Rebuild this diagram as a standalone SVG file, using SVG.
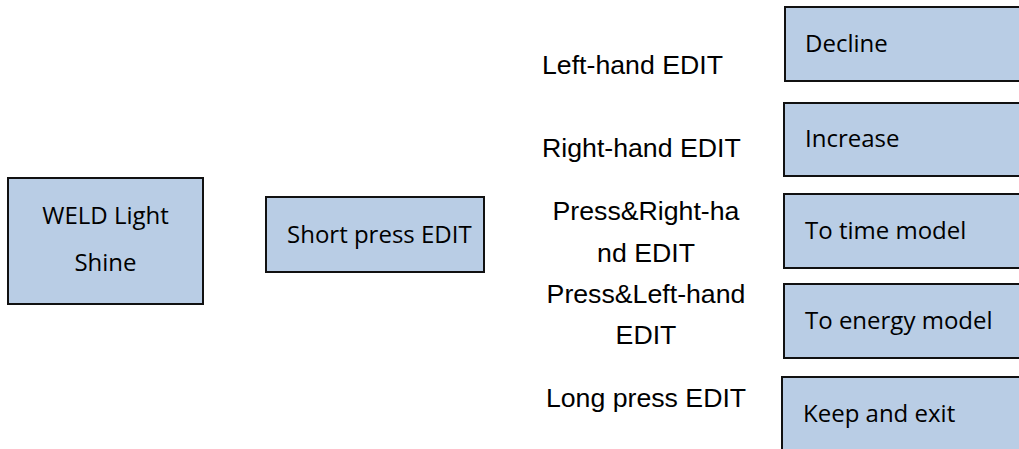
<svg xmlns="http://www.w3.org/2000/svg" width="1019" height="449" viewBox="0 0 1019 449">
<style>
.box{fill:#b9cde5;stroke:#111;stroke-width:2}
.bt{font-family:"Open Sans","Liberation Sans",sans-serif;font-size:24px;fill:#000}
.lb{font-family:"Liberation Sans",Arial,sans-serif;font-size:26.7px;fill:#000}
</style>
<rect width="1019" height="449" fill="#fff"/>
<g id="connectors"/>
<g id="weld">
<rect class="box" x="8" y="178" width="195" height="126"/>
<text class="bt" x="105.5" y="224" text-anchor="middle">WELD Light</text>
<text class="bt" x="105.5" y="271" text-anchor="middle">Shine</text>
</g>
<g id="short">
<rect class="box" x="266" y="197" width="218" height="75"/>
<text class="bt" x="287" y="243">Short press EDIT</text>
</g>
<g id="decline">
<rect class="box" x="785" y="7" width="260" height="74"/>
<text class="bt" x="805" y="52">Decline</text>
</g>
<g id="increase">
<rect class="box" x="784" y="103" width="260" height="73"/>
<text class="bt" x="805" y="147">Increase</text>
</g>
<g id="time">
<rect class="box" x="784" y="194" width="260" height="74"/>
<text class="bt" x="805" y="239">To time model</text>
</g>
<g id="energy">
<rect class="box" x="784" y="284" width="260" height="74"/>
<text class="bt" x="805" y="329">To energy model</text>
</g>
<g id="keep">
<rect class="box" x="782" y="377" width="260" height="100"/>
<text class="bt" x="803" y="422">Keep and exit</text>
</g>
<g id="labels">
<text class="lb" x="542" y="74">Left-hand EDIT</text>
<text class="lb" x="542" y="157">Right-hand EDIT</text>
<text class="lb" x="646" y="220" text-anchor="middle">Press&amp;Right-ha</text>
<text class="lb" x="646" y="262" text-anchor="middle">nd EDIT</text>
<text class="lb" x="646" y="303" text-anchor="middle">Press&amp;Left-hand</text>
<text class="lb" x="646" y="344" text-anchor="middle">EDIT</text>
<text class="lb" x="646" y="407" text-anchor="middle">Long press EDIT</text>
</g>
</svg>
